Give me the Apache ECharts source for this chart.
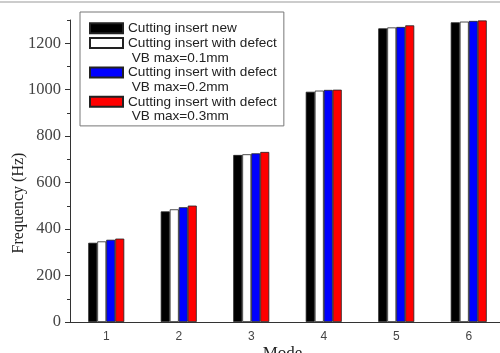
<!DOCTYPE html>
<html>
<head>
<meta charset="utf-8">
<script src="https://cdn.jsdelivr.net/npm/echarts@6/dist/echarts.min.js"></script>
<style>
html,body{margin:0;padding:0;background:#fff;}
#chart{width:500px;height:353px;}
</style>
</head>
<body>
<div id="chart"></div>
<script>
const categories = ['1', '2', '3', '4', '5', '6'];
const seriesNames = [
  'Cutting insert new',
  'Cutting insert with defect\n VB max=0.1mm',
  'Cutting insert with defect\n VB max=0.2mm',
  'Cutting insert with defect\n VB max=0.3mm'
];
const newInsert = [341, 476, 719, 991, 1264, 1290];
const defect01 = [347, 485, 722, 996, 1268, 1293];
const defect02 = [354, 494, 726, 999, 1270, 1296];
const defect03 = [359, 501, 732, 1000, 1277, 1298];
const yTicks = [0, 200, 400, 600, 800, 1000, 1200];
const yMinorTicks = [100, 300, 500, 700, 900, 1100, 1300];
const colors = ['#000000', '#ffffff', '#0000ff', '#ff0000'];
const values = [newInsert, defect01, defect02, defect03];

const chart = echarts.init(document.getElementById('chart'), null, {renderer: 'canvas'});

const option = {
  animation: false,
  backgroundColor: '#ffffff',
  graphic: [{
    type: 'rect', left: 0, top: 1, shape: {width: 500, height: 2},
    style: {fill: '#cccccc'}, silent: true
  }],
  grid: {left: 70, right: -5, top: 20, bottom: 31, containLabel: false, outerBoundsMode: 'none'},
  legend: {
    orient: 'vertical',
    left: 80, top: 12,
    padding: [9, 7, 2, 9],
    itemGap: -14.7,
    itemWidth: 33, itemHeight: 10,
    icon: 'rect',
    borderColor: '#777', borderWidth: 1,
    textStyle: {fontFamily: 'Liberation Sans, Arial', fontSize: 13.6, color: '#222', lineHeight: 14.7},
    formatter: function (name) { return name.indexOf('\n') >= 0 ? '\n' + name : name; },
    data: seriesNames,
    selectedMode: false
  },
  xAxis: [{
    type: 'category',
    data: categories,
    name: 'Mode',
    nameLocation: 'middle',
    nameGap: 23,
    nameMoveOverlap: false,
    nameTextStyle: {fontFamily: 'Liberation Serif, Times New Roman', fontSize: 17, color: '#222', padding: [0, 0, 0, -10]},
    axisLine: {lineStyle: {color: '#333', width: 1}},
    axisTick: {alignWithLabel: true, length: 5, lineStyle: {color: '#333'}},
    axisLabel: {fontFamily: 'Liberation Sans, Arial', fontSize: 12, color: '#444', margin: 9},
    splitLine: {show: false}
  }, {
    type: 'category',
    data: categories,
    position: 'bottom',
    axisLine: {show: false},
    axisTick: {length: 3, lineStyle: {color: '#333'}},
    axisLabel: {show: false},
    splitLine: {show: false}
  }],
  yAxis: [{
    type: 'value',
    min: 0, max: 1300,
    name: 'Frequency (Hz)',
    nameLocation: 'middle',
    nameGap: 43,
    nameRotate: 90,
    nameMoveOverlap: false,
    nameTextStyle: {fontFamily: 'Liberation Serif, Times New Roman', fontSize: 16, color: '#222', padding: [0, 64, 0, 0]},
    axisLine: {show: true, lineStyle: {color: '#333', width: 1}},
    axisTick: {show: true, length: 5, customValues: yTicks, lineStyle: {color: '#333'}},
    axisLabel: {customValues: yTicks, formatter: function (v) { return String(v); },
      fontFamily: 'Liberation Serif, Times New Roman', fontSize: 16.5, color: '#444', margin: 9},
    splitLine: {show: false}
  }, {
    type: 'value',
    min: 0, max: 1300,
    position: 'left',
    axisLine: {show: false},
    axisTick: {show: true, length: 3, customValues: yMinorTicks, lineStyle: {color: '#333'}},
    axisLabel: {show: false},
    splitLine: {show: false}
  }],
  series: seriesNames.map((n, i) => ({
    name: n,
    type: 'bar',
    xAxisIndex: 0,
    yAxisIndex: 0,
    data: values[i],
    barWidth: 9,
    barGap: '0%',
    itemStyle: {color: colors[i], borderColor: '#222', borderWidth: 0.8}
  }))
};
chart.setOption(option);
</script>
</body>
</html>
